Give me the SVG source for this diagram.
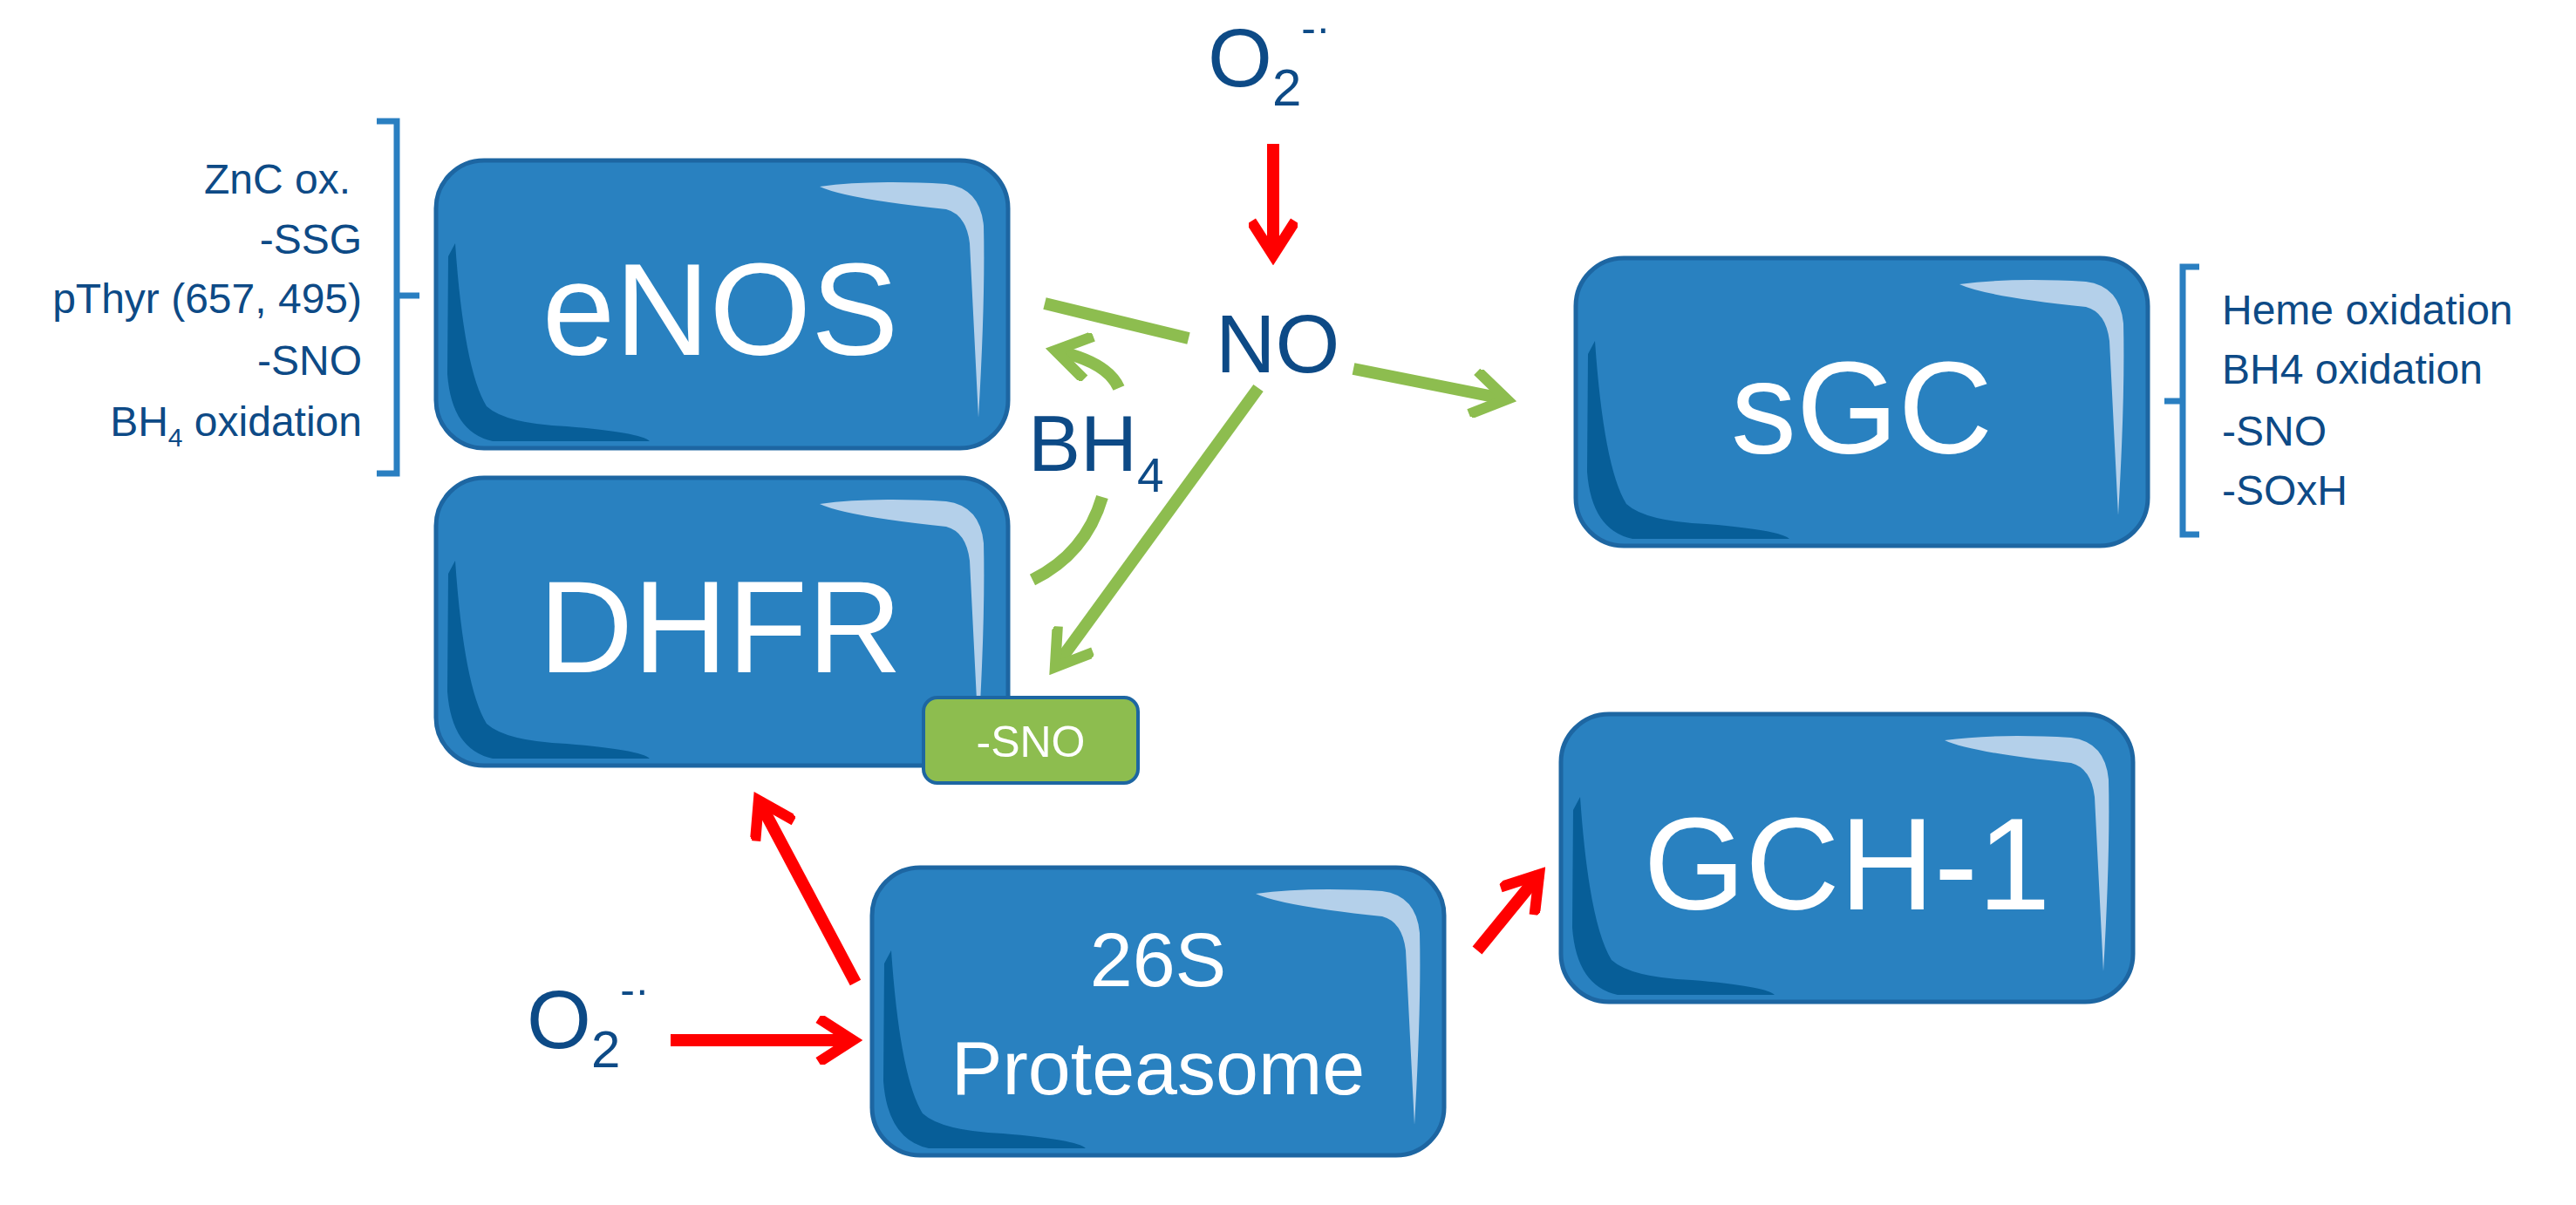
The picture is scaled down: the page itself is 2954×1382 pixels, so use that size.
<svg xmlns="http://www.w3.org/2000/svg" width="2954" height="1382" viewBox="0 0 2954 1382">
<style>
.lbl{font-family:"Liberation Sans",Arial,sans-serif;fill:#0d4a86}
.big{font-family:"Liberation Sans",Arial,sans-serif;fill:#fff;text-anchor:middle}
.g{stroke:#8dbd4f;stroke-width:14;fill:none;stroke-linecap:butt}
.r{stroke:#ff0000;stroke-width:14;fill:none}
.br{stroke:#2a7fc1;stroke-width:7;fill:none}
</style>
<defs>
<g id="box">
<rect x="0" y="0" width="656" height="330" rx="55" fill="#2981c0" stroke="#1d66a2" stroke-width="5"/>
<path d="M440 30 Q470 44 585 56 Q608 62 612 95 L622 295 Q630 160 628 75 Q624 32 585 27 Q500 22 440 30 Z" fill="#b4d0ea"/>
<path d="M22 95 Q32 240 58 282 Q80 302 150 305 Q235 312 245 322 L65 322 Q18 312 13 245 L14 110 Z" fill="#075e98"/>
</g>
<marker id="ag" viewBox="0 0 10 10" refX="8" refY="5" markerWidth="4" markerHeight="4" orient="auto" markerUnits="strokeWidth"><path d="M1 0.5 L8 5 L1 9.5" fill="none" stroke="#8dbd4f" stroke-width="2.2"/></marker>
<marker id="ar" viewBox="0 0 10 10" refX="8" refY="5" markerWidth="4" markerHeight="4" orient="auto" markerUnits="strokeWidth"><path d="M1 0.5 L8 5 L1 9.5" fill="none" stroke="#ff0000" stroke-width="2.2"/></marker>
</defs>

<g id="eNOS"><use href="#box" x="500" y="184"/><text class="big" x="826" y="407" font-size="150">eNOS</text></g>
<g id="DHFR"><use href="#box" x="500" y="548"/><text class="big" x="826" y="771" font-size="150">DHFR</text>
<rect x="1059" y="800" width="246" height="98" rx="16" fill="#8dbd4f" stroke="#1d66a2" stroke-width="4"/>
<text x="1182" y="868" font-size="50" fill="#fff" text-anchor="middle" font-family="Liberation Sans,Arial,sans-serif">-SNO</text></g>
<g id="sGC"><use href="#box" x="1807" y="296"/><text class="big" x="2135" y="520" font-size="150">sGC</text></g>
<g id="Proteasome"><use href="#box" x="1000" y="995"/><text class="big" x="1328" y="1131" font-size="88">26S</text><text class="big" x="1328" y="1255" font-size="88">Proteasome</text></g>
<g id="GCH1"><use href="#box" x="1790" y="819"/><text class="big" x="2118" y="1043" font-size="150">GCH-1</text></g>

<g id="labels">
<text class="lbl" x="1385" y="99" font-size="95">O<tspan font-size="60" dy="22">2</tspan><tspan font-size="50" dy="-72">-·</tspan></text>
<text class="lbl" x="1394" y="427" font-size="95">NO</text>
<text class="lbl" x="1179" y="540" font-size="90">BH<tspan font-size="55" dy="24">4</tspan></text>
<text class="lbl" x="604" y="1202" font-size="95">O<tspan font-size="60" dy="22">2</tspan><tspan font-size="50" dy="-72">-·</tspan></text>
<g font-size="48" text-anchor="end">
<text class="lbl" x="402" y="222">ZnC ox.</text>
<text class="lbl" x="415" y="291">-SSG</text>
<text class="lbl" x="415" y="359">pThyr (657, 495)</text>
<text class="lbl" x="415" y="430">-SNO</text>
<text class="lbl" x="415" y="500">BH<tspan font-size="30" dy="12">4</tspan><tspan dy="-12"> oxidation</tspan></text>
</g>
<g font-size="48">
<text class="lbl" x="2548" y="372">Heme oxidation</text>
<text class="lbl" x="2548" y="440">BH4 oxidation</text>
<text class="lbl" x="2548" y="511">-SNO</text>
<text class="lbl" x="2548" y="579">-SOxH</text>
</g>
<path class="br" d="M432 139 H455 V543 H432 M455 339 H481"/>
<path class="br" d="M2522 306 H2503 V613 H2522 M2503 460 H2482"/>
</g>

<g id="connectors">
<path class="r" d="M1460 165 V293" marker-end="url(#ar)"/>
<path class="g" d="M1198 348 L1363 388"/>
<path class="g" d="M1552 423 L1728 458" marker-end="url(#ag)"/>
<path class="g" d="M1443 445 L1210 765" marker-end="url(#ag)"/>
<path class="g" d="M1283 445 Q1270 415 1210 402" marker-end="url(#ag)"/>
<path class="g" d="M1264 570 Q1245 635 1184 665"/>
<path class="r" d="M981 1127 L870 918" marker-end="url(#ar)"/>
<path class="r" d="M769 1193 H978" marker-end="url(#ar)"/>
<path class="r" d="M1694 1090 L1765 1003" marker-end="url(#ar)"/>
</g>
</svg>
